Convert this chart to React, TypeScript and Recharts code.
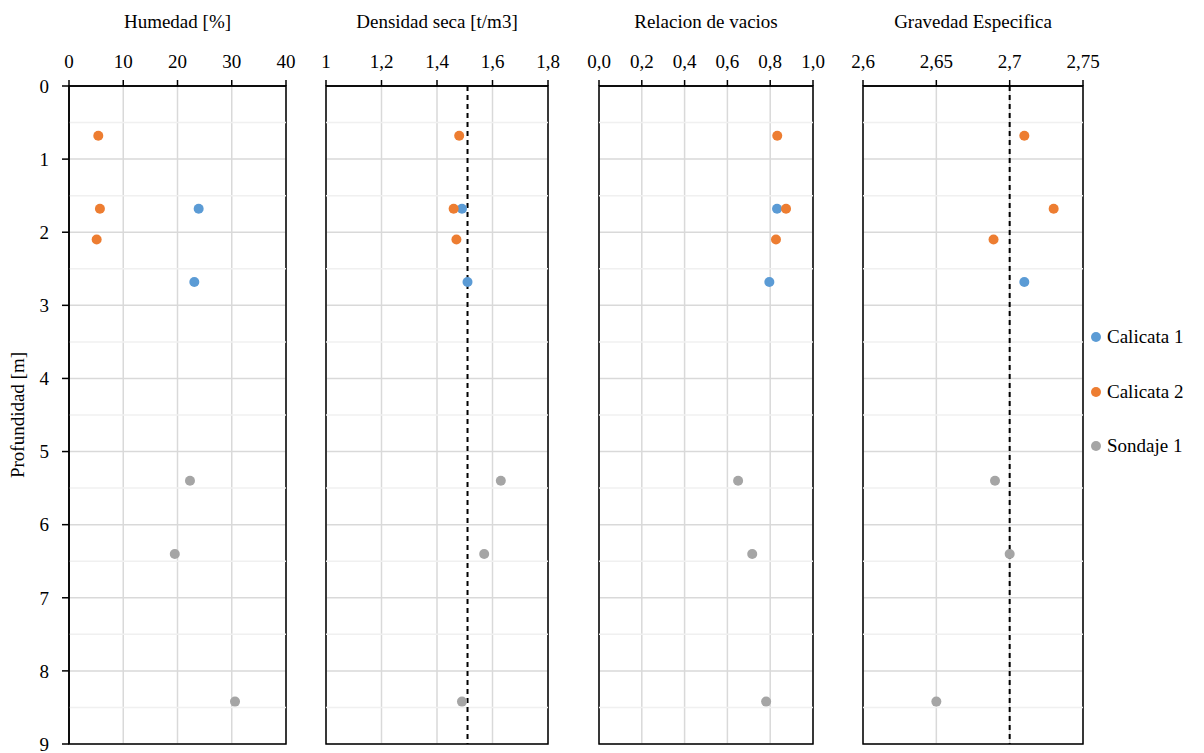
import React from 'react';
import {
  ScatterChart,
  Scatter,
  XAxis,
  YAxis,
  CartesianGrid,
  ReferenceLine,
  ReferenceArea,
} from 'recharts';

const FONT = "'Liberation Serif', 'Times New Roman', Times, 'DejaVu Serif', serif";
const FONT_SIZE = 19;

// depths [m]
const calicata1Depth = [1.68, 2.68];
const calicata2Depth = [0.68, 1.68, 2.1];
const sondaje1Depth = [5.4, 6.4, 8.42];

// Humedad [%]
const humedadC1 = [23.9, 23.1];
const humedadC2 = [5.4, 5.7, 5.1];
const humedadS1 = [22.3, 19.5, 30.6];

// Densidad seca [t/m3]
const densidadC1 = [1.49, 1.51];
const densidadC2 = [1.48, 1.46, 1.47];
const densidadS1 = [1.63, 1.57, 1.49];

// Relacion de vacios
const vaciosC1 = [0.832, 0.796];
const vaciosC2 = [0.833, 0.874, 0.827];
const vaciosS1 = [0.65, 0.716, 0.781];

// Gravedad Especifica
const gravedadC1 = [null, 2.71];
const gravedadC2 = [2.71, 2.73, 2.689];
const gravedadS1 = [2.69, 2.7, 2.65];

const depthTicks = [0, 1, 2, 3, 4, 5, 6, 7, 8, 9];
const depthMinor = [0.5, 1.5, 2.5, 3.5, 4.5, 5.5, 6.5, 7.5, 8.5];

const humedadTicks = [0, 10, 20, 30, 40];
const densidadTicks = [1, 1.2, 1.4, 1.6, 1.8];
const vaciosTicks = [0, 0.2, 0.4, 0.6, 0.8, 1.0];
const gravedadTicks = [2.6, 2.65, 2.7, 2.75];

const densidadRef = 1.51;
const gravedadRef = 2.7;

const seriesNames = ['Calicata 1', 'Calicata 2', 'Sondaje 1'];
const seriesColors = ['#5B9BD5', '#ED7D31', '#A5A5A5'];
const seriesDepths = [calicata1Depth, calicata2Depth, sondaje1Depth];

const toPoints = (xs: (number | null)[], ys: number[]) =>
  xs
    .map((x, i) => ({ x, y: ys[i] }))
    .filter(p => p.x !== null);

const comma = (v: number) => String(v).replace('.', ',');
const comma1 = (v: number) => v.toFixed(1).replace('.', ',');

interface PanelProps {
  title: string;
  plotLeft: number;
  plotWidth: number;
  ticks: number[];
  values: (number | null)[][];
  format: (v: number) => string;
  refX?: number;
  showDepthAxis?: boolean;
}

const PLOT_TOP = 86;
const PLOT_HEIGHT = 658;
const AXIS_W = 50;
const SIDE = 26;

const Panel: React.FC<PanelProps> = ({ title, plotLeft, plotWidth, ticks, values, format, refX, showDepthAxis }) => {
  const domain = [ticks[0], ticks[ticks.length - 1]];
  const marginLeft = showDepthAxis ? 19 : SIDE;
  const left = plotLeft - marginLeft - (showDepthAxis ? AXIS_W : 0);
  const width = marginLeft + (showDepthAxis ? AXIS_W : 0) + plotWidth + SIDE;

  return (
    <>
      <div
        style={{
          position: 'absolute',
          left: plotLeft - 20,
          width: plotWidth + 40,
          top: 11,
          lineHeight: '22px',
          textAlign: 'center',
          fontFamily: FONT,
          fontSize: FONT_SIZE,
          whiteSpace: 'nowrap',
        }}
      >
        {title}
      </div>
      <div style={{ position: 'absolute', left, top: 0 }}>
        <ScatterChart width={width} height={753} margin={{ top: 56, right: SIDE, bottom: 9, left: marginLeft }}>
          <CartesianGrid stroke="#d9d9d9" strokeWidth={1.5} />
          {depthMinor.map(d => (
            <ReferenceLine key={d} y={d} stroke="#f0f0f0" strokeWidth={1.5} />
          ))}
          <XAxis
            type="number"
            dataKey="x"
            orientation="top"
            domain={domain}
            ticks={ticks}
            interval={0}
            tickFormatter={format}
            height={30}
            tickSize={6}
            tickMargin={12}
            allowDataOverflow
            axisLine={{ stroke: '#000', strokeWidth: 1.5 }}
            tickLine={{ stroke: '#000', strokeWidth: 1.5 }}
            tick={{ fill: '#000', fontSize: FONT_SIZE, fontFamily: FONT }}
          />
          <YAxis
            type="number"
            dataKey="y"
            domain={[0, 9]}
            ticks={depthTicks}
            interval={0}
            reversed
            hide={!showDepthAxis}
            width={AXIS_W}
            tickSize={7}
            tickMargin={13}
            allowDataOverflow
            axisLine={{ stroke: '#000', strokeWidth: 1.5 }}
            tickLine={{ stroke: '#000', strokeWidth: 1.5 }}
            tick={{ fill: '#000', fontSize: FONT_SIZE, fontFamily: FONT }}
          />
          <ReferenceArea
            x1={domain[0]}
            x2={domain[1]}
            y1={0}
            y2={9}
            fill="none"
            fillOpacity={0}
            stroke="#000"
            strokeWidth={1.5}
          />
          {refX !== undefined && (
            <ReferenceLine x={refX} stroke="#000" strokeWidth={2} strokeDasharray="5 4" />
          )}
          {values.map((vals, i) => (
            <Scatter
              key={seriesNames[i]}
              name={seriesNames[i]}
              data={toPoints(vals, seriesDepths[i])}
              isAnimationActive={false}
              shape={(p: any) => <circle cx={p.cx} cy={p.cy} r={5} fill={seriesColors[i]} />}
            />
          ))}
        </ScatterChart>
      </div>
    </>
  );
};

export default function App() {
  return (
    <div style={{ position: 'absolute', left: 0, top: 0, width: 1204, height: 753, background: '#fff' }}>
      <div
        style={{
          position: 'absolute',
          left: 18,
          top: PLOT_TOP + PLOT_HEIGHT / 2,
          transform: 'translate(-50%, -50%) rotate(-90deg)',
          fontFamily: FONT,
          fontSize: FONT_SIZE,
          whiteSpace: 'nowrap',
        }}
      >
        Profundidad [m]
      </div>
      <Panel
        title="Humedad [%]"
        plotLeft={69}
        plotWidth={217}
        ticks={humedadTicks}
        values={[humedadC1, humedadC2, humedadS1]}
        format={comma}
        showDepthAxis
      />
      <Panel
        title="Densidad seca [t/m3]"
        plotLeft={326}
        plotWidth={222}
        ticks={densidadTicks}
        values={[densidadC1, densidadC2, densidadS1]}
        format={comma}
        refX={densidadRef}
      />
      <Panel
        title="Relacion de vacios"
        plotLeft={599}
        plotWidth={214}
        ticks={vaciosTicks}
        values={[vaciosC1, vaciosC2, vaciosS1]}
        format={comma1}
      />
      <Panel
        title="Gravedad Especifica"
        plotLeft={863}
        plotWidth={220}
        ticks={gravedadTicks}
        values={[gravedadC1, gravedadC2, gravedadS1]}
        format={comma}
        refX={gravedadRef}
      />
      <div style={{ position: 'absolute', left: 1091, top: 326, fontFamily: FONT, fontSize: FONT_SIZE }}>
        {seriesNames.map((name, i) => (
          <div key={name} style={{ display: 'flex', alignItems: 'center', height: 22, marginBottom: 32.7 }}>
            <span
              style={{
                display: 'inline-block',
                width: 10,
                height: 10,
                borderRadius: '50%',
                background: seriesColors[i],
                marginRight: 6,
              }}
            />
            <span>{name}</span>
          </div>
        ))}
      </div>
    </div>
  );
}
